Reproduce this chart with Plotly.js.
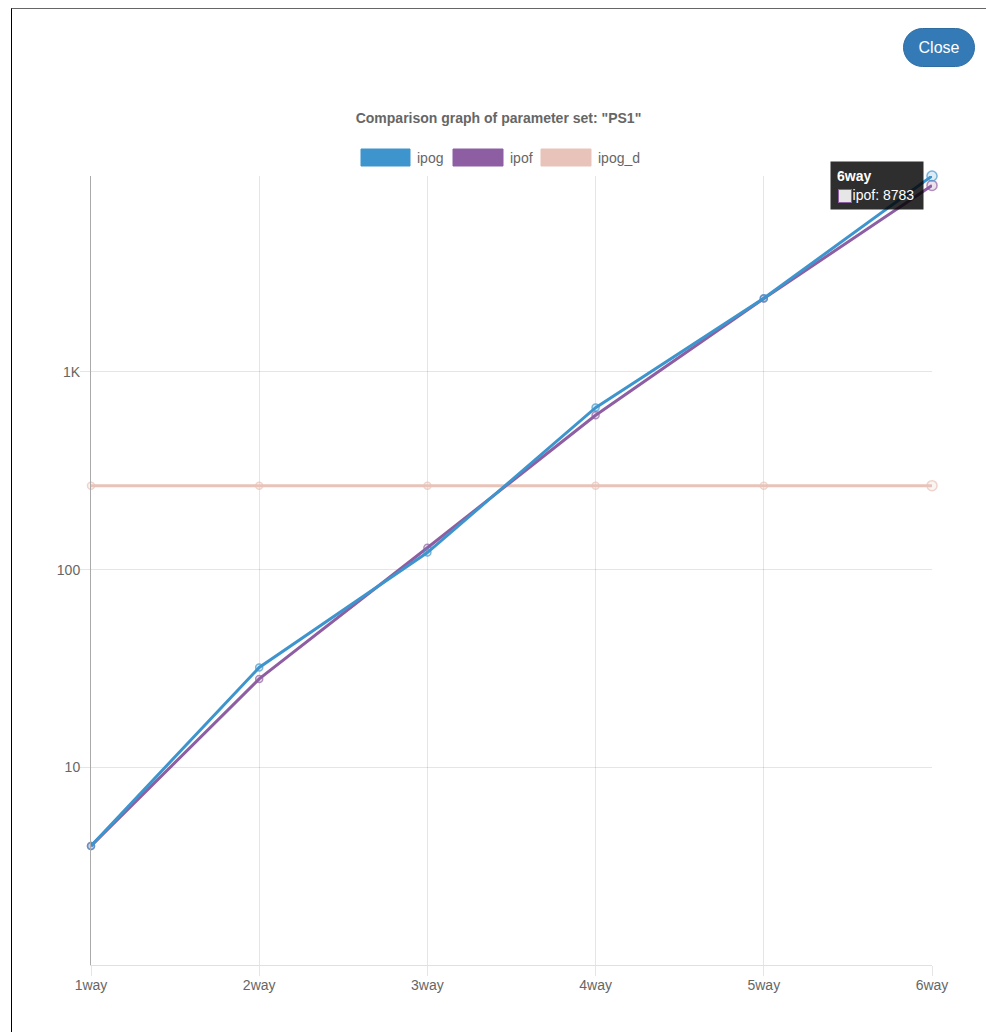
<!DOCTYPE html>
<html>
<head>
<meta charset="utf-8">
<script src="https://cdn.plot.ly/plotly-3.0.1.min.js"></script>
<style>
  html, body { margin: 0; padding: 0; background: #fff; width: 986px; height: 1032px; overflow: hidden; }
  #frame { position: absolute; left: 11px; top: 8px; right: 0; bottom: 0; border-left: 1.5px solid #000; border-top: 1.5px solid #666; }
  #chart { position: absolute; left: 0; top: 0; width: 986px; height: 1032px; }
  #closeBtn { position: absolute; left: 903px; top: 28px; width: 72px; height: 39px; border-radius: 20px;
    background: #337ab7; border: 1px solid #2e6da4; color: #fff; font-family: "Liberation Sans", Arial, sans-serif;
    font-size: 16px; line-height: 37px; text-align: center; box-sizing: border-box; }
</style>
</head>
<body>
<div id="frame"></div>
<div id="chart"></div>
<div id="closeBtn">Close</div>
<script>
const titleText = 'Comparison graph of parameter set: "PS1"';
const categories = ['1way', '2way', '3way', '4way', '5way', '6way'];
const ipog   = [4, 32, 122, 660, 2360, 9800];
const ipof   = [4, 28, 129, 604, 2350, 8783];
const ipog_d = [266, 266, 266, 266, 266, 266];
const seriesNames = ['ipog', 'ipof', 'ipog_d'];
const seriesColors = ['#3e95cd', '#8e5ea2', '#e8c3b9'];
const yTickVals = [10, 100, 1000];
const yTickText = ['10', '100', '1K'];

const FONT = '"Liberation Sans", Arial, Helvetica, sans-serif';
const W = 986, H = 1032;
const L = 91, R = 932, T = 176, B = 965;
const px = x => (x - L) / (R - L);
const py = y => (B - y) / (B - T);

function rgba(hex, a) {
  const n = parseInt(hex.slice(1), 16);
  return `rgba(${(n >> 16) & 255},${(n >> 8) & 255},${n & 255},${a})`;
}
const sizes = categories.map((c, i) => i === categories.length - 1 ? 10 : 7);

function mk(name, ys, color) {
  return {
    type: 'scatter', mode: 'lines+markers', name: name,
    x: categories, y: ys,
    line: { color: color, width: 3 },
    marker: { size: sizes, color: rgba(color, 0.25), line: { color: color, width: 1.5 } },
    cliponaxis: false, hoverinfo: 'none', showlegend: false
  };
}
const data = [
  mk(seriesNames[2], ipog_d, seriesColors[2]),
  mk(seriesNames[1], ipof, seriesColors[1]),
  mk(seriesNames[0], ipog, seriesColors[0])
];

// custom legend (Chart.js-style boxes)
const legendBoxes = [[361, 410], [453, 503], [541, 591]];
const shapes = [];
const annotations = [];
seriesNames.forEach((n, i) => {
  const [x0, x1] = legendBoxes[i];
  shapes.push({ type: 'rect', xref: 'paper', yref: 'paper', x0: px(x0), x1: px(x1), y0: py(166), y1: py(149),
    fillcolor: seriesColors[i], line: { color: seriesColors[i], width: 1 } });
  annotations.push({ xref: 'paper', yref: 'paper', x: px(x1 + 5), y: py(157.5), xanchor: 'left', yanchor: 'middle',
    text: n, showarrow: false, font: { family: FONT, size: 14, color: '#666' } });
});

// tooltip for 6way / ipof
const last = categories.length - 1;
annotations.push({
  x: categories[last], y: Math.log10(ipof[last]), xref: 'x', yref: 'y',
  xanchor: 'right', yanchor: 'middle', xshift: -8, yshift: 0,
  showarrow: false, align: 'left', bgcolor: 'rgba(0,0,0,0.82)', borderpad: 6,
  width: 80, height: 35, valign: 'middle',
  text: '<b>' + categories[last] + '</b><br>\u00a0\u00a0\u00a0\u00a0' + seriesNames[1] + ': ' + ipof[last],
  font: { family: FONT, size: 14, color: '#fff' }
});
annotations.push({
  x: categories[last], y: Math.log10(ipof[last]), xref: 'x', yref: 'y',
  xanchor: 'center', yanchor: 'middle', xshift: -87, yshift: -11,
  showarrow: false, text: ' ', width: 12, height: 12, borderpad: 0,
  bgcolor: '#e6e6e6', bordercolor: seriesColors[1], borderwidth: 1
});

const layout = {
  width: W, height: H,
  margin: { l: L, r: W - R, t: T, b: H - B, pad: 0 },
  paper_bgcolor: 'rgba(0,0,0,0)', plot_bgcolor: 'rgba(0,0,0,0)',
  title: { text: '<b>' + titleText + '</b>', x: px(498.5), xanchor: 'center', xref: 'paper', y: 1 - 118 / H, yanchor: 'middle',
    font: { family: FONT, size: 14, color: '#666' } },
  showlegend: false,
  xaxis: {
    type: 'category', range: [0, categories.length - 1],
    showgrid: true, gridcolor: 'rgba(0,0,0,0.1)', gridwidth: 1,
    showline: true, linecolor: 'rgba(0,0,0,0.12)', linewidth: 1,
    ticks: 'outside', ticklen: 10, tickcolor: 'rgba(0,0,0,0.1)', tickwidth: 1, ticklabelstandoff: -3,
    tickfont: { family: FONT, size: 14, color: '#666' }, zeroline: false, fixedrange: true
  },
  yaxis: {
    type: 'log', range: [0, Math.log10(Math.max(...ipog))],
    tickvals: yTickVals, ticktext: yTickText,
    showgrid: true, gridcolor: 'rgba(0,0,0,0.1)', gridwidth: 1,
    showline: true, linecolor: '#aaa', linewidth: 1,
    ticks: 'outside', ticklen: 10, tickcolor: 'rgba(0,0,0,0.1)', tickwidth: 1, ticklabelstandoff: -3,
    tickfont: { family: FONT, size: 14, color: '#666' }, zeroline: false, fixedrange: true
  },
  shapes: shapes,
  annotations: annotations,
  hovermode: false
};

Plotly.newPlot('chart', data, layout, { displayModeBar: false, staticPlot: true });
</script>
</body>
</html>
